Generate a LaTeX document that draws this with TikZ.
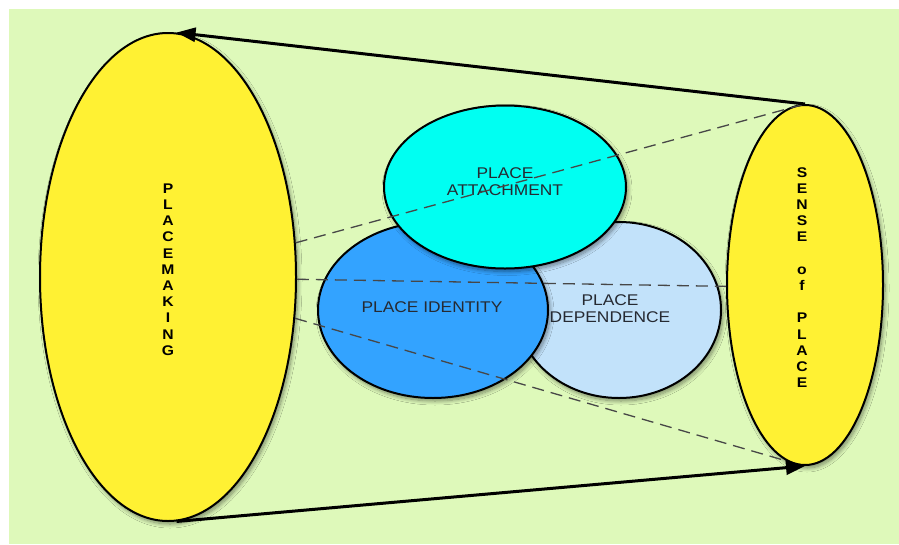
\documentclass[tikz,border=0pt]{standalone}
\usepackage{fontspec}
\setmainfont{Liberation Sans}
\newfontfamily\widefont[FakeStretch=1.12]{Liberation Sans}
\newfontfamily\widebold[FakeStretch=1.12]{Liberation Sans Bold}
\usetikzlibrary{shapes.geometric,arrows.meta,shadows.blur}

\definecolor{bggreen}{RGB}{222,249,186}
\definecolor{bubbleyellow}{RGB}{255,241,51}
\definecolor{bubblecyan}{RGB}{0,255,242}
\definecolor{bubbleblue}{RGB}{51,163,255}
\definecolor{bubblepale}{RGB}{194,226,250}
\definecolor{labelgray}{RGB}{38,42,50}

\begin{document}
\begin{tikzpicture}[x=1pt,y=-1pt,
  bubble/.style={ellipse, draw=black, line width=2pt, inner sep=0pt,
    blur shadow={shadow xshift=2pt, shadow yshift=-3pt,
                 shadow blur steps=10, shadow blur radius=4pt,
                 shadow opacity=45}},
  lbl/.style={align=center, text=labelgray, inner sep=0pt,
    font=\widefont\fontsize{15.5}{17}\selectfont},
  vlbl/.style={align=center, text=black, inner sep=0pt,
    font=\widebold\fontsize{14}{16.2}\selectfont},
  flow/.style={line width=3pt, -{Triangle[length=19pt,width=14pt]}},
  link/.style={line width=1.3pt, draw=black!72, dash pattern=on 12pt off 7pt}]

\useasboundingbox (0,0) rectangle (899,544);
\fill[bggreen] (9,9) rectangle (899,544);

% outer ellipses
\node[bubble, fill=bubbleyellow, minimum width=256pt, minimum height=488pt]
  (making) at (168,277) {};
\node[bubble, fill=bubbleyellow, minimum width=156pt, minimum height=360pt]
  (sense) at (805,285) {};

% the three overlapping components
\node[bubble, fill=bubblepale, minimum width=204pt, minimum height=176pt]
  (dependence) at (619,310) {};
\node[bubble, fill=bubbleblue, minimum width=230pt, minimum height=176pt]
  (identity) at (433,310) {};
\node[bubble, fill=bubblecyan, minimum width=242pt, minimum height=163pt]
  (attachment) at (505,187) {};

% labels
\node[lbl] (attachtxt) at (505,181.5) {PLACE\\ATTACHMENT};
\node[lbl] (identtxt) at (432,307.5) {PLACE IDENTITY};
\node[lbl] (deptxt) at (610,309) {PLACE\\DEPENDENCE};
\node[vlbl] (makingtxt) at (168,269.5)
  {P\\L\\A\\C\\E\\M\\A\\K\\I\\N\\G};
\node[vlbl] (sensetxt) at (802,277.5)
  {S\\E\\N\\S\\E\\[16.2pt]o\\f\\[16.2pt]P\\L\\A\\C\\E};

% dashed links
\draw[link] (making.15) -- (sense.north);
\draw[link] (making.-1) -- (sense.181);
\draw[link] (making.-18) -- (sense.264);

% solid flow arrows
\draw[flow] (sense.north) -- (making.88);
\draw[flow] (making.272) -- (sense.south);

\end{tikzpicture}
\end{document}
